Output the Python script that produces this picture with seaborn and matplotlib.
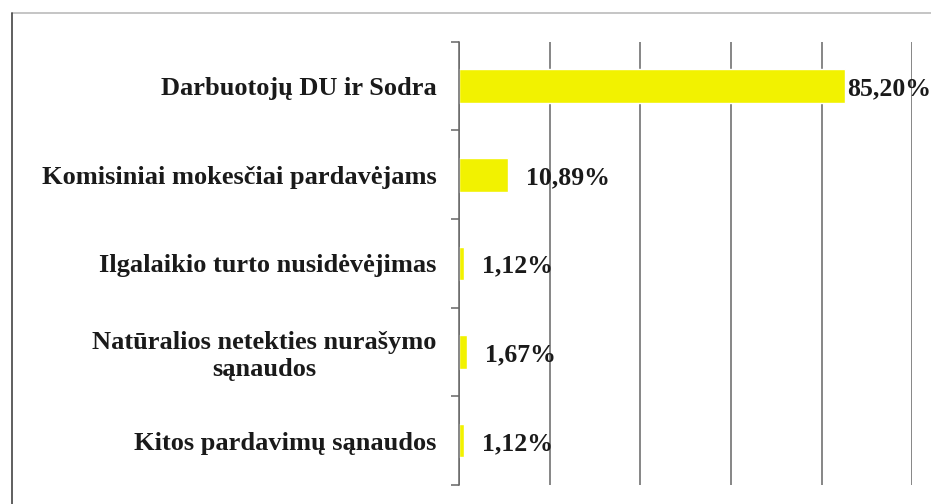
import matplotlib
matplotlib.use("Agg")
import matplotlib.pyplot as plt
from matplotlib.lines import Line2D
import seaborn as sns
import pandas as pd

categories = [
    "Darbuotojų DU ir Sodra",
    "Komisiniai mokesčiai pardavėjams",
    "Ilgalaikio turto nusidėvėjimas",
    "Natūralios netekties nurašymo\nsąnaudos",
    "Kitos pardavimų sąnaudos",
]
values = [85.20, 10.89, 1.12, 1.67, 1.12]
value_labels = ["85,20%", "10,89%", "1,12%", "1,67%", "1,12%"]
grid_ticks = [0, 20, 40, 60, 80, 100]

df = pd.DataFrame({"Category": categories, "Share": values})

sns.set_style("white")
plt.rcParams["font.family"] = ["Liberation Serif", "DejaVu Serif"]
plt.rcParams["font.weight"] = "bold"

fig = plt.figure(figsize=(9.31, 5.04), dpi=100)
ax = fig.add_axes([0.493, 0.038, 0.487, 0.879])

sns.barplot(data=df, x="Share", y="Category", orient="h", color="#f2f200",
            saturation=1, width=0.38, ax=ax)

ax.set_xlim(0, 100)
ax.set_xticks(grid_ticks)
ax.set_xticklabels([])
ax.tick_params(axis="x", length=0)
ax.grid(axis="x", color="#666666", linewidth=1.1)
ax.set_axisbelow(True)

ax.set_ylim(len(categories) - 0.5, -0.5)
ax.set_yticks(range(len(categories)))
ax.set_yticklabels(categories, fontsize=19, fontweight="bold", ha="right",
                   multialignment="center", color="#1a1a1a")
ax.tick_params(axis="y", which="major", left=False, length=0, pad=16)
ax.set_yticks([i - 0.5 for i in range(len(categories) + 1)], minor=True)
ax.tick_params(axis="y", which="minor", left=True, length=6, width=1.1,
               color="#666666")
ax.set_xlabel("")
ax.set_ylabel("")

for side in ["top", "right", "bottom"]:
    ax.spines[side].set_visible(False)
ax.spines["left"].set_color("#666666")
ax.spines["left"].set_linewidth(1.1)

pads = [1, 13, 13, 13, 13]
for i, (v, lab) in enumerate(zip(values, value_labels)):
    ax.annotate(lab, xy=(v, i), xytext=(pads[i], -2), textcoords="offset points",
                va="center", ha="left", fontsize=18.5, fontweight="bold",
                color="#1a1a1a", annotation_clip=False)

# scanned page frame
fig.add_artist(Line2D([0.013, 1.0], [0.975, 0.975], color="#bbbbbb", lw=1.2))
fig.add_artist(Line2D([0.013, 0.013], [0.975, 0.0], color="#444444", lw=1.2))

fig.savefig("out.png", dpi=100)
